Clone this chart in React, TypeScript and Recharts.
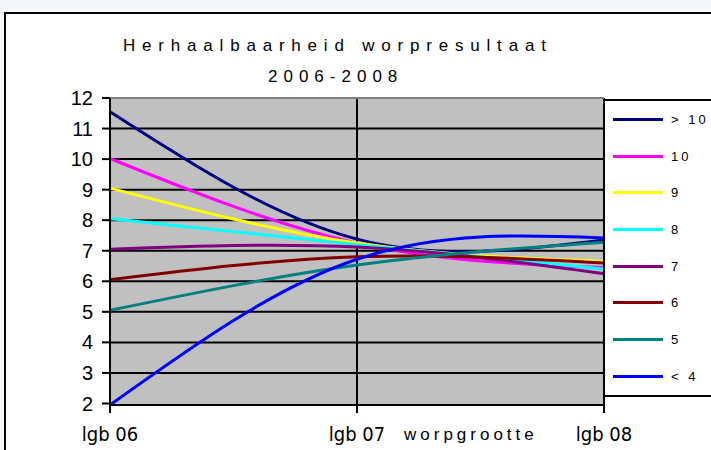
import React from 'react';
import { LineChart, Line, XAxis, YAxis, CartesianGrid, ReferenceLine } from 'recharts';

const categories = ['lgb 06', 'lgb 07', 'lgb 08'];
const yTicks = [2, 3, 4, 5, 6, 7, 8, 9, 10, 11, 12];

// worpgrootte groups, values per year
const over10 = [11.55, 7.38, 7.35];
const ten = [10.02, 7.25, 6.45];
const nine = [9.05, 7.25, 6.65];
const eight = [8.05, 7.2, 6.4];
const seven = [7.05, 7.12, 6.25];
const six = [6.05, 6.8, 6.6];
const five = [5.05, 6.53, 7.28];
const under4 = [1.95, 6.72, 7.42];

const seriesNames = ['> 10', '10', '9', '8', '7', '6', '5', '< 4'];
const seriesValues = [over10, ten, nine, eight, seven, six, five, under4];
const colors = ['#000080', '#ff00ff', '#ffff00', '#00ffff', '#800080', '#800000', '#008080', '#0000ff'];

const data = categories.map((name, i) => {
  const row: Record<string, string | number> = { name };
  seriesNames.forEach((s, j) => {
    row['s' + j] = seriesValues[j][i];
  });
  return row;
});

const narrow = "'Liberation Sans Narrow', 'DejaVu Sans Condensed', Arial, sans-serif";
const arial = "'Liberation Sans', Arial, sans-serif";

const LegendBox = () => (
  <div
    style={{
      position: 'absolute',
      left: 603,
      top: 99,
      width: 120,
      height: 298,
      borderLeft: '2px solid #000',
      borderTop: '2px solid #000',
      borderBottom: '2px solid #000',
      background: '#fff',
      boxSizing: 'border-box',
    }}
  >
    {seriesNames.map((s, i) => (
      <div key={s} style={{ height: 36.7, display: 'flex', alignItems: 'center' }}>
        <div style={{ width: 50, height: 3, background: colors[i], marginLeft: 8 }} />
        <span style={{ marginLeft: 8, fontFamily: arial, fontSize: 13, letterSpacing: 3, color: '#000' }}>
          {s}
        </span>
      </div>
    ))}
  </div>
);

export default function App() {
  return (
    <div style={{ position: 'fixed', left: 0, top: 0, width: 711, height: 450, background: '#f5f8fb', overflow: 'hidden' }}>
      <div
        style={{
          position: 'absolute',
          left: 4,
          top: 12,
          width: 800,
          height: 500,
          border: '2px solid #000',
          background: '#fff',
        }}
      />
      <div style={{ position: 'absolute', left: 0, top: 0 }}>
        <LineChart width={711} height={450} data={data} margin={{ top: 98, right: 107, bottom: 0, left: 0 }}>
          <CartesianGrid
            fill="#c0c0c0"
            stroke="#000"
            strokeWidth={2}
            horizontalValues={[3, 4, 5, 6, 7, 8, 9, 10, 11]}
          />
          <ReferenceLine y={12} stroke="#808080" strokeWidth={2} />
          <XAxis
            dataKey="name"
            height={45}
            padding={{ left: 0, right: 0 }}
            axisLine={{ stroke: '#000', strokeWidth: 2 }}
            tickLine={{ stroke: '#000', strokeWidth: 2 }}
            tickSize={8}
            tickMargin={14}
            tick={{ fill: '#000', fontSize: 20, fontFamily: narrow }}
          />
          <YAxis
            width={110}
            domain={[2, 12]}
            ticks={yTicks}
            interval={0}
            axisLine={{ stroke: '#000', strokeWidth: 2 }}
            tickLine={{ stroke: '#000', strokeWidth: 2 }}
            tickSize={8}
            tickMargin={9}
            tick={{ fill: '#000', fontSize: 20, fontFamily: arial }}
          />
          {seriesNames.map((s, i) => (
            <Line
              key={s}
              type="natural"
              dataKey={'s' + i}
              name={s}
              stroke={colors[i]}
              strokeWidth={3}
              dot={false}
              activeDot={false}
              isAnimationActive={false}
            />
          ))}
        </LineChart>
      </div>
      <LegendBox />
      <div
        style={{
          position: 'absolute',
          left: 123,
          top: 36,
          fontFamily: arial,
          fontSize: 17,
          letterSpacing: 6.8,
          color: '#000',
          whiteSpace: 'nowrap',
        }}
      >
        Herhaalbaarheid worpresultaat
      </div>
      <div
        style={{
          position: 'absolute',
          left: 268,
          top: 67,
          fontFamily: arial,
          fontSize: 17,
          letterSpacing: 6,
          color: '#000',
          whiteSpace: 'nowrap',
        }}
      >
        2006-2008
      </div>
      <div
        style={{
          position: 'absolute',
          left: 404,
          top: 425,
          fontFamily: arial,
          fontSize: 17,
          letterSpacing: 4,
          color: '#000',
          whiteSpace: 'nowrap',
        }}
      >
        worpgrootte
      </div>
    </div>
  );
}
